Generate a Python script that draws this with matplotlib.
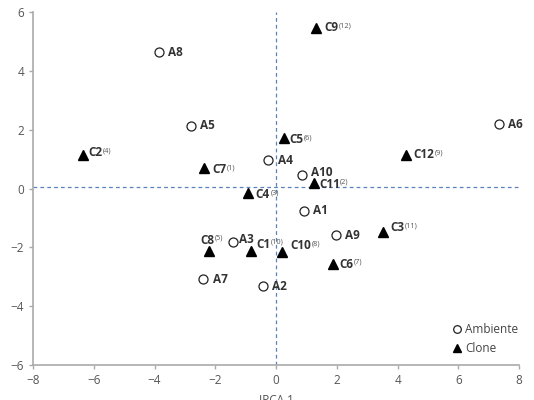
import matplotlib
matplotlib.use("Agg")
import matplotlib.pyplot as plt

plt.rcParams['font.family'] = ['Open Sans', 'DejaVu Sans']

# Ambiente points
amb_names = ["A1", "A2", "A3", "A4", "A5", "A6", "A7", "A8", "A9", "A10"]
amb_x = [0.92, -0.43, -1.41, -0.26, -2.80, 7.34, -2.40, -3.85, 1.97, 0.86]
amb_y = [-0.77, -3.32, -1.82, 0.97, 2.13, 2.19, -3.08, 4.64, -1.58, 0.46]

# Clone points
clo_names = ["C1", "C2", "C3", "C4", "C5", "C6", "C7", "C8", "C9", "C10", "C11", "C12"]
clo_sup = ["(10)", "(4)", "(11)", "(3)", "(6)", "(7)", "(1)", "(5)", "(12)", "(8)", "(2)", "(9)"]
clo_x = [-0.82, -6.35, 3.52, -0.92, 0.26, 1.88, -2.37, -2.20, 1.32, 0.20, 1.25, 4.28]
clo_y = [-2.13, 1.14, -1.48, -0.15, 1.72, -2.57, 0.70, -2.13, 5.46, -2.16, 0.19, 1.14]

# label offsets (points)
amb_off = {"A1": (6.5, 0.5), "A2": (6.5, 0), "A3": (4, 1.5), "A4": (7, -0.5), "A5": (6.5, 0),
           "A6": (6.5, 0), "A7": (7, 0), "A8": (6.5, 0), "A9": (6.5, -0.5), "A10": (6, 2)}
clo_off = {"C1": (3.5, 5), "C2": (3.5, 1.5), "C3": (5, 3), "C4": (5.5, -1.5), "C5": (4, -1.5),
           "C6": (4.5, 0), "C7": (6, -1.5), "C8": (-6.5, 8), "C9": (6, 0), "C10": (6, 4.5),
           "C11": (3.5, -1), "C12": (5, 0)}

fig = plt.figure(figsize=(5.34, 4.0), dpi=100)
ax = fig.add_axes([0.062, 0.0875, 0.910, 0.8825])

ax.axhline(0.05, color='#5b82c0', lw=0.9, ls=(0, (3, 2.5)), zorder=1)
ax.axvline(0, color='#5b82c0', lw=0.9, ls=(0, (3, 2.5)), zorder=1)

ax.plot(amb_x, amb_y, 'o', ms=6.5, mfc='white', mec='#222222', mew=0.9, ls='none',
        label='Ambiente', zorder=3)
ax.plot(clo_x, clo_y, '^', ms=7, mfc='black', mec='black', ls='none',
        label='Clone', zorder=3)

txtc = '#333333'
for n, x, y in zip(amb_names, amb_x, amb_y):
    dx, dy = amb_off[n]
    ax.annotate(n, (x, y), xytext=(dx, dy), textcoords='offset points', ha='left',
                va='center', fontsize=8.5, fontweight='bold', color=txtc)

for n, s, x, y in zip(clo_names, clo_sup, clo_x, clo_y):
    dx, dy = clo_off[n]
    t = ax.annotate(n, (x, y), xytext=(dx, dy), textcoords='offset points', ha='left',
                    va='center', fontsize=8.5, fontweight='bold', color=txtc)
    ax.annotate(s, xy=(1, 0.92), xycoords=t, xytext=(0.3, 0), textcoords='offset points',
                ha='left', va='top', fontsize=5.3, color='#555555')

ax.set_xlim(-8, 8)
ax.set_ylim(-6, 6)
ax.set_xticks(range(-8, 9, 2))
ax.set_yticks(range(-6, 7, 2))
ax.set_xticklabels(['\u2212' + str(abs(v)) if v < 0 else str(v) for v in range(-8, 9, 2)])
ax.set_yticklabels(['\u2212' + str(abs(v)) if v < 0 else str(v) for v in range(-6, 7, 2)])

for sp in ['top', 'right']:
    ax.spines[sp].set_visible(False)
for sp in ['left', 'bottom']:
    ax.spines[sp].set_color('#aaaaaa')
    ax.spines[sp].set_linewidth(1.2)
ax.tick_params(colors='#aaaaaa', labelcolor='#555555', labelsize=8.5, length=3, width=1)

ax.set_xlabel('IPCA 1', fontsize=8.5, color='#555555', labelpad=5)
ax.set_ylabel('IPCA 2', fontsize=8.5, color='#555555', labelpad=6)
ax.yaxis.set_label_coords(-0.075, 0.5)

leg = ax.legend(loc='lower right', bbox_to_anchor=(1.015, 0.005), frameon=False, fontsize=8.5,
                handletextpad=0.2, handlelength=1.0, borderaxespad=0.3, labelspacing=0.5)
for t in leg.get_texts():
    t.set_color('#444444')
for h in leg.legend_handles:
    h.set_markersize(5.5)

fig.savefig('out.png', dpi=100)
